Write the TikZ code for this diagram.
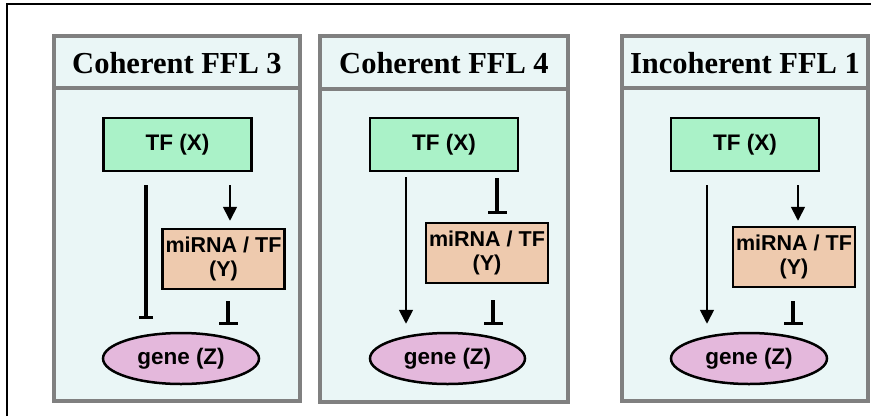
\documentclass[tikz,border=0pt]{standalone}
\usepackage{fontspec}
\setmainfont{Liberation Serif}
\newfontfamily\arialf{Liberation Sans}
\usetikzlibrary{arrows.meta,shapes.geometric}
\definecolor{panelfill}{HTML}{EAF6F6}
\definecolor{panelborder}{HTML}{808080}
\definecolor{tfgreen}{HTML}{AAF2C8}
\definecolor{mirbox}{HTML}{EECAAE}
\definecolor{genefill}{HTML}{E4B8DC}
\tikzset{
  panel/.style={draw=panelborder, line width=3.5pt, fill=panelfill},
  divider/.style={draw=panelborder, line width=3.5pt},
  ptitle/.style={font=\fontsize{30.5}{32}\selectfont\bfseries, inner sep=0pt},
  tfbox/.style={draw=black, line width=2.5pt, fill=tfgreen, minimum width=148pt, minimum height=53pt, inner sep=0pt, font=\arialf\fontsize{22.5}{24}\selectfont\bfseries},
  ybox/.style={draw=black, line width=2.5pt, fill=mirbox, minimum width=122pt, minimum height=60pt, inner sep=0pt, align=center, font=\arialf\fontsize{21.5}{24}\selectfont\bfseries},
  genenode/.style={ellipse, draw=black, line width=2.5pt, fill=genefill, minimum width=156pt, minimum height=51pt, inner sep=0pt, font=\arialf\fontsize{22.5}{24}\selectfont\bfseries},
  act/.style={line width=1.7pt, -{Triangle[length=14pt,width=14pt]}},
  inh/.style={line width=3.2pt, -{Bar[width=19pt]}},
  inhs/.style={line width=3.2pt, -{Bar[width=14pt]}},
}
\begin{document}
\begin{tikzpicture}[x=1pt,y=-1pt]
\useasboundingbox (0,0) rectangle (871,416);
\fill[white] (0,0) rectangle (871,416);
\draw[line width=2.5pt] (7,416) -- (7,4) -- (871,4);

% Panel 1
\draw[panel] (54,36) rectangle (300,401);
\draw[divider] (54,88) -- (300,88);
\node[ptitle] (t1) at (177,63) {Coherent FFL 3};
\node[tfbox] (X1) at (177.5,144.5) {TF (X)};
\node[ybox] (Y1) at (223.5,259) {miRNA / TF\\(Y)};
\node[genenode] (Z1) at (181,358.5) {gene (Z)};
\coordinate (a1) at (146,185);
\coordinate (b1) at (230,185);
\coordinate (c1) at (228,301);
\draw[inhs, shorten >=13pt] (a1) -- (a1 |- Z1.north);
\draw[act, shorten >=7pt] (b1) -- (b1 |- Y1.north);
\draw[inh, shorten >=7pt] (c1) -- (c1 |- Z1.north);

% Panel 2
\draw[panel] (320,36) rectangle (568,402);
\draw[divider] (320,89) -- (568,89);
\node[ptitle] (t2) at (444,63) {Coherent FFL 4};
\node[tfbox] (X2) at (444,144.5) {TF (X)};
\node[ybox] (Y2) at (487,253) {miRNA / TF\\(Y)};
\node[genenode, minimum width=155pt] (Z2) at (447.5,358.5) {gene (Z)};
\coordinate (a2) at (406,177);
\coordinate (b2) at (497,178);
\coordinate (c2) at (493,300);
\draw[act, shorten >=8pt] (a2) -- (a2 |- Z2.north);
\draw[inh, shorten >=8pt] (b2) -- (b2 |- Y2.north);
\draw[inh, shorten >=7pt] (c2) -- (c2 |- Z2.north);

% Panel 3
\draw[panel] (622,36) rectangle (868,401);
\draw[divider] (622,88) -- (868,88);
\node[ptitle] (t3) at (745,63) {Incoherent FFL 1};
\node[tfbox] (X3) at (745,144.5) {TF (X)};
\node[ybox] (Y3) at (794,257) {miRNA / TF\\(Y)};
\node[genenode] (Z3) at (749,358.5) {gene (Z)};
\coordinate (a3) at (707,185);
\coordinate (b3) at (798,185);
\coordinate (c3) at (793,301);
\draw[act, shorten >=8pt] (a3) -- (a3 |- Z3.north);
\draw[act, shorten >=5pt] (b3) -- (b3 |- Y3.north);
\draw[inh, shorten >=7pt] (c3) -- (c3 |- Z3.north);
\end{tikzpicture}
\end{document}
